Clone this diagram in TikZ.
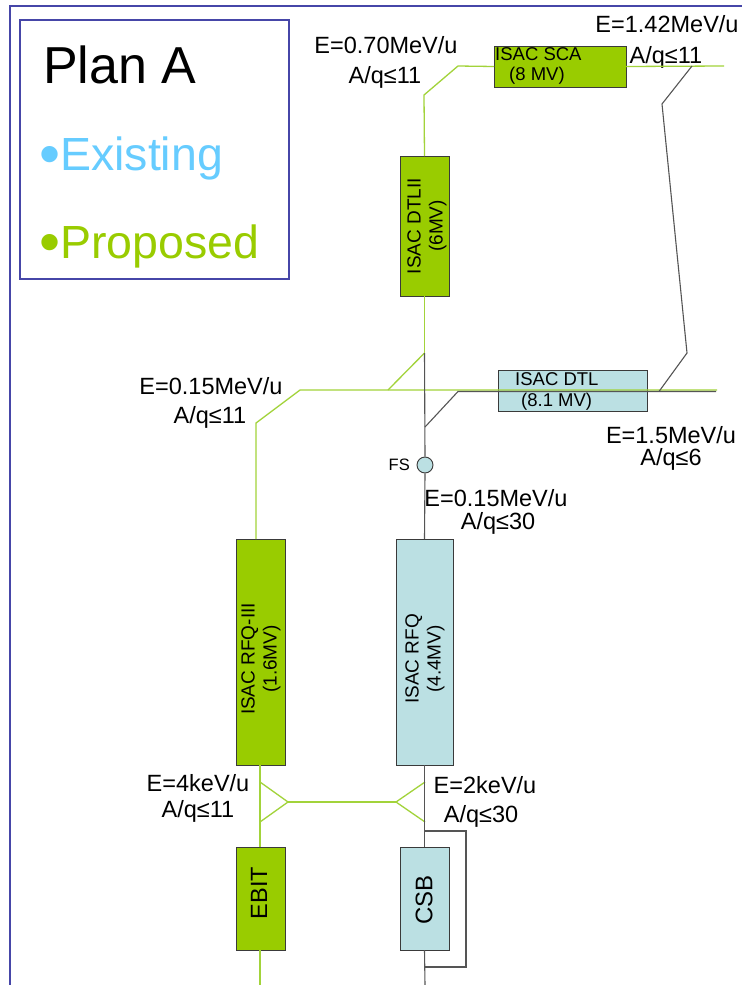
\documentclass[tikz,border=0pt]{standalone}
\usepackage{fontspec}
\setmainfont{Liberation Sans}
\definecolor{prop}{HTML}{99CC00}
\definecolor{propline}{HTML}{A2D33A}
\definecolor{exist}{HTML}{66CCFF}
\definecolor{existfill}{HTML}{BBE0E3}
\definecolor{framec}{HTML}{4646A8}
\definecolor{beam}{HTML}{555555}
\definecolor{boxline}{HTML}{3A3A3A}
\newcommand{\bigbullet}{\makebox[21pt][l]{\fontsize{60}{60}\selectfont\raisebox{-4pt}{•}}}
\begin{document}
\begin{tikzpicture}[x=1pt,y=-1pt,
  greenbox/.style={draw=boxline, fill=prop, line width=0.9pt, inner sep=0pt, outer sep=0pt},
  bluebox/.style={draw=boxline, fill=existfill, line width=0.9pt, inner sep=0pt, outer sep=0pt},
  gline/.style={draw=propline, line width=1.3pt},
  bline/.style={draw=beam, line width=1.1pt},
  lbl/.style={font=\fontsize{23.5}{27}\selectfont, anchor=base, inner sep=0pt},
  boxlbl/.style={font=\fontsize{18.5}{22}\selectfont, inner sep=0pt},
  rotlbl/.style={font=\fontsize{19}{22}\selectfont, inner sep=0pt, rotate=90, align=center},
  biglbl/.style={font=\fontsize{46.5}{50}\selectfont, anchor=base west, inner sep=0pt}
]
\useasboundingbox (0,0) rectangle (742,985);
\fill[white] (0,0) rectangle (742,985);

% outer frame
\coordinate (fr1) at (10,985);
\coordinate (fr2) at (10,6);
\coordinate (fr3) at (742,6);
\draw[framec, line width=2.2pt] (fr1) -- (fr2) -- (fr3);

% legend
\node[draw=framec, line width=1.6pt, minimum width=269pt, minimum height=259pt, inner sep=0pt] (legend) at (154.5,149.5) {};
\node[biglbl, font=\fontsize{52}{56}\selectfont] (plana) at (43,83) {Plan A};
\node[biglbl, text=exist] (existing) at (39,170) {\bigbullet Existing};
\node[biglbl, text=prop] (proposed) at (39,258) {\bigbullet Proposed};

% boxes
\node[greenbox, minimum width=132pt, minimum height=41pt] (sca) at (560,66.5) {};
\node[greenbox, minimum width=49pt, minimum height=140pt] (dtl2) at (424.5,226) {};
\node[bluebox, minimum width=149pt, minimum height=41pt] (dtl) at (572.5,390.5) {};
\node[greenbox, minimum width=49pt, minimum height=226pt] (rfq3) at (260.5,652) {};
\node[bluebox, minimum width=57pt, minimum height=226pt] (rfq) at (424.5,652) {};
\node[greenbox, minimum width=49pt, minimum height=103pt] (ebit) at (260.5,898.5) {};
\node[bluebox, minimum width=49pt, minimum height=103pt] (csb) at (424.5,898.5) {};
\node[circle, draw=boxline, fill=existfill, line width=0.9pt, minimum size=16pt, inner sep=0pt] (fs) at (425,465) {};

% box labels
\node[boxlbl, anchor=base west] (scat1) at (495,60) {ISAC SCA};
\node[boxlbl, anchor=base west] (scat2) at (509,80) {(8 MV)};
\node[boxlbl, anchor=base west] (dtlt1) at (515,385) {ISAC DTL};
\node[boxlbl, anchor=base west] (dtlt2) at (521,406) {(8.1 MV)};
\node[rotlbl] (dtl2t) at (427,226) {ISAC DTLII\\(6MV)};
\node[rotlbl] (rfq3t) at (261,659) {ISAC RFQ-III\\(1.6MV)};
\node[rotlbl] (rfqt) at (425,659) {ISAC RFQ\\(4.4MV)};
\node[font=\fontsize{23.5}{27}\selectfont, rotate=90, inner sep=0pt] (ebitt) at (259,893) {EBIT};
\node[font=\fontsize{24}{27}\selectfont, rotate=90, inner sep=0pt] (csbt) at (424,900) {CSB};
\node[font=\fontsize{16.5}{20}\selectfont, anchor=east, inner sep=0pt] (fst) at (410,465) {FS};

% energy labels
\node[lbl] (e070) at (386,53) {E=0.70MeV/u};
\node[lbl] (q070) at (385,83) {A/q≤11};
\node[lbl] (e142) at (667,32) {E=1.42MeV/u};
\node[lbl] (q142) at (666,63) {A/q≤11};
\node[lbl] (e015l) at (211,394) {E=0.15MeV/u};
\node[lbl] (q015l) at (210,423) {A/q≤11};
\node[lbl] (e15) at (671,443) {E=1.5MeV/u};
\node[lbl] (q15) at (671,465) {A/q≤6};
\node[lbl] (e015) at (496,506) {E=0.15MeV/u};
\node[lbl] (q015) at (498,529) {A/q≤30};
\node[lbl] (e4) at (198,791) {E=4keV/u};
\node[lbl] (q4) at (198,817) {A/q≤11};
\node[lbl] (e2) at (485,793) {E=2keV/u};
\node[lbl] (q2) at (481,822) {A/q≤30};

% coordinates
\coordinate (t1) at (424,95);
\coordinate (t2) at (458,66);
\coordinate (t3) at (724,66);
\coordinate (m1) at (424.5,353);
\coordinate (m2) at (424.5,390);
\coordinate (m3) at (388,390);
\coordinate (h1) at (300,390);
\coordinate (h2) at (717,390);
\coordinate (l1) at (256,423);
\coordinate (l2) at (256,539);
\coordinate (b1) at (425,427);
\coordinate (b2) at (458,391.5);
\coordinate (b3) at (716,391.5);
\coordinate (r1) at (659,391.5);
\coordinate (r2) at (687,353);
\coordinate (r3) at (662,104);
\coordinate (r4) at (692,66);
\coordinate (s1) at (260,782);
\coordinate (s2) at (288,802);
\coordinate (s3) at (260,822);
\coordinate (s4) at (396,802);
\coordinate (s5) at (425,782);
\coordinate (s6) at (425,822);
\coordinate (eb) at (260,985);
\coordinate (cb) at (425,985);
\coordinate (p1) at (425,831);
\coordinate (p2) at (466,831);
\coordinate (p3) at (466,967);
\coordinate (p4) at (425,967);

% proposed (green) beam lines
\draw[gline] (dtl2.north) -- (t1) -- (t2) -- (sca.west);
\draw[gline] (sca.east) -- (t3);
\draw[gline] (dtl2.south) -- (m2);
\draw[gline] (m1) -- (m3);
\draw[gline] (h2) -- (h1) -- (l1) -- (l2);
\draw[gline] (rfq3.south -| s1) -- (ebit.north -| s1);
\draw[gline] (ebit.south -| eb) -- (eb);
\draw[gline] (s1) -- (s2) -- (s3);
\draw[gline] (s2) -- (s4);
\draw[gline] (s5) -- (s4) -- (s6);

% existing (black) beam lines
\draw[bline] (fs.north) -- (m1);
\draw[bline] (b1) -- (b2) -- (b3);
\draw[bline] (r1) -- (r2) -- (r3) -- (r4);
\draw[bline] (rfq.north) -- (fs.south);
\draw[bline] (rfq.south) -- (csb.north);
\draw[bline] (csb.south) -- (cb);
\draw[bline] (p1) -- (p2) -- (p3) -- (p4);
\end{tikzpicture}
\end{document}
